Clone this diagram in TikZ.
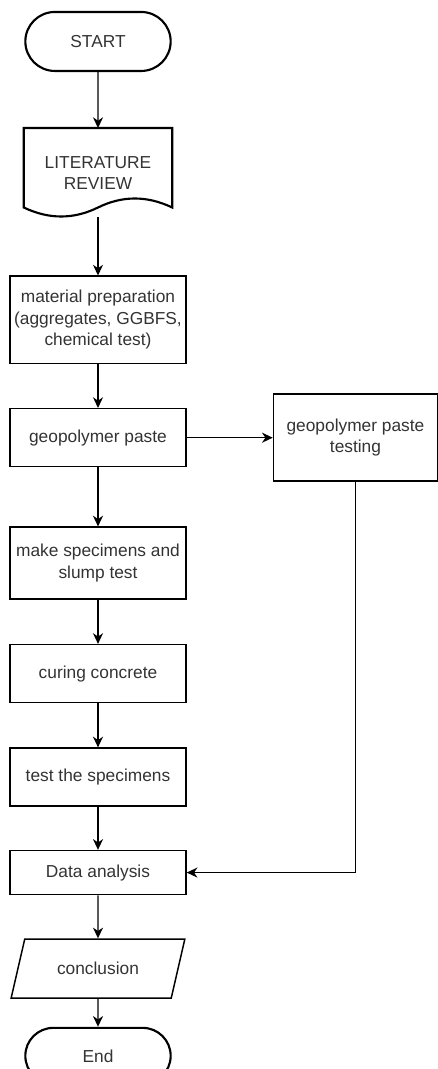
\documentclass[tikz,border=0pt]{standalone}
\usepackage{fontspec}
\setmainfont{Liberation Sans}
\usetikzlibrary{shapes.geometric,shapes.misc}
\usetikzlibrary{arrows.meta,arrows}
\usetikzlibrary{positioning}

\begin{document}
\begin{tikzpicture}[->,>={Stealth[length=8pt,width=7.5pt,inset=2.5pt]},line width=1.1pt,
every node/.style={text=black!80,font=\fontsize{13}{16}\selectfont,align=center,inner sep=1pt},
process/.style={draw,rectangle,minimum width=132pt},
terminal/.style={draw,rounded rectangle,line width=1.6pt,minimum width=111pt,minimum height=44.25pt},
io/.style={draw,trapezium,trapezium left angle=63,trapezium right angle=117,trapezium stretches=true,minimum width=131.25pt,minimum height=44.25pt}]
\useasboundingbox (0,0) rectangle (327.75pt,-801.75pt);
\node[terminal] (start) at (73.5pt,-31.1pt) {START};
\node[minimum width=110.25pt,minimum height=66pt] (lit) [below=42pt of start] {LITERATURE\\REVIEW};
\node[process,minimum height=65.25pt] (mat) [below=43.5pt of lit] {material preparation\\(aggregates, GGBFS,\\chemical test)};
\node[process,minimum height=43.5pt] (paste) [below=33pt of mat] {geopolymer paste};
\node[process,minimum width=123pt,minimum height=65.25pt] (ptest) [right=64.5pt of paste] {geopolymer paste\\testing};
\node[process,minimum height=54pt] (spec) [below=44.25pt of paste] {make specimens and\\slump test};
\node[process,minimum height=43.5pt] (cure) [below=33pt of spec] {curing concrete};
\node[process,minimum height=43.5pt] (tspec) [below=33pt of cure] {test the specimens};
\node[process,minimum height=33pt] (data) [below=32.25pt of tspec] {Data analysis};
\node[io] (concl) [below=32.25pt of data] {conclusion};
\node[terminal,minimum height=42pt] (stop) [below=21pt of concl] {End};
% document outline with wavy bottom
\draw[-,line width=1.6pt] (lit.north west) -- (lit.north east) -- ([yshift=7.5pt]lit.south east)
  .. controls ([shift={(36.75pt,16.5pt)}]lit.south) and ([shift={(18.375pt,16.5pt)}]lit.south) .. ([yshift=7.5pt]lit.south)
  .. controls ([shift={(-18.375pt,-1.5pt)}]lit.south) and ([shift={(-36.75pt,-1.5pt)}]lit.south) .. ([yshift=7.5pt]lit.south west) -- cycle;
\path (start) edge (lit) ;
\path (lit) edge (mat) ;
\path (mat) edge (paste) ;
\path (paste) edge (ptest) ;
\path (paste) edge (spec) ;
\path (spec) edge (cure) ;
\path (cure) edge (tspec) ;
\path (tspec) edge (data) ;
\path (data) edge (concl) ;
\path (concl) edge (stop) ;
\draw (ptest) |- (data) ;
\end{tikzpicture}
\end{document}
